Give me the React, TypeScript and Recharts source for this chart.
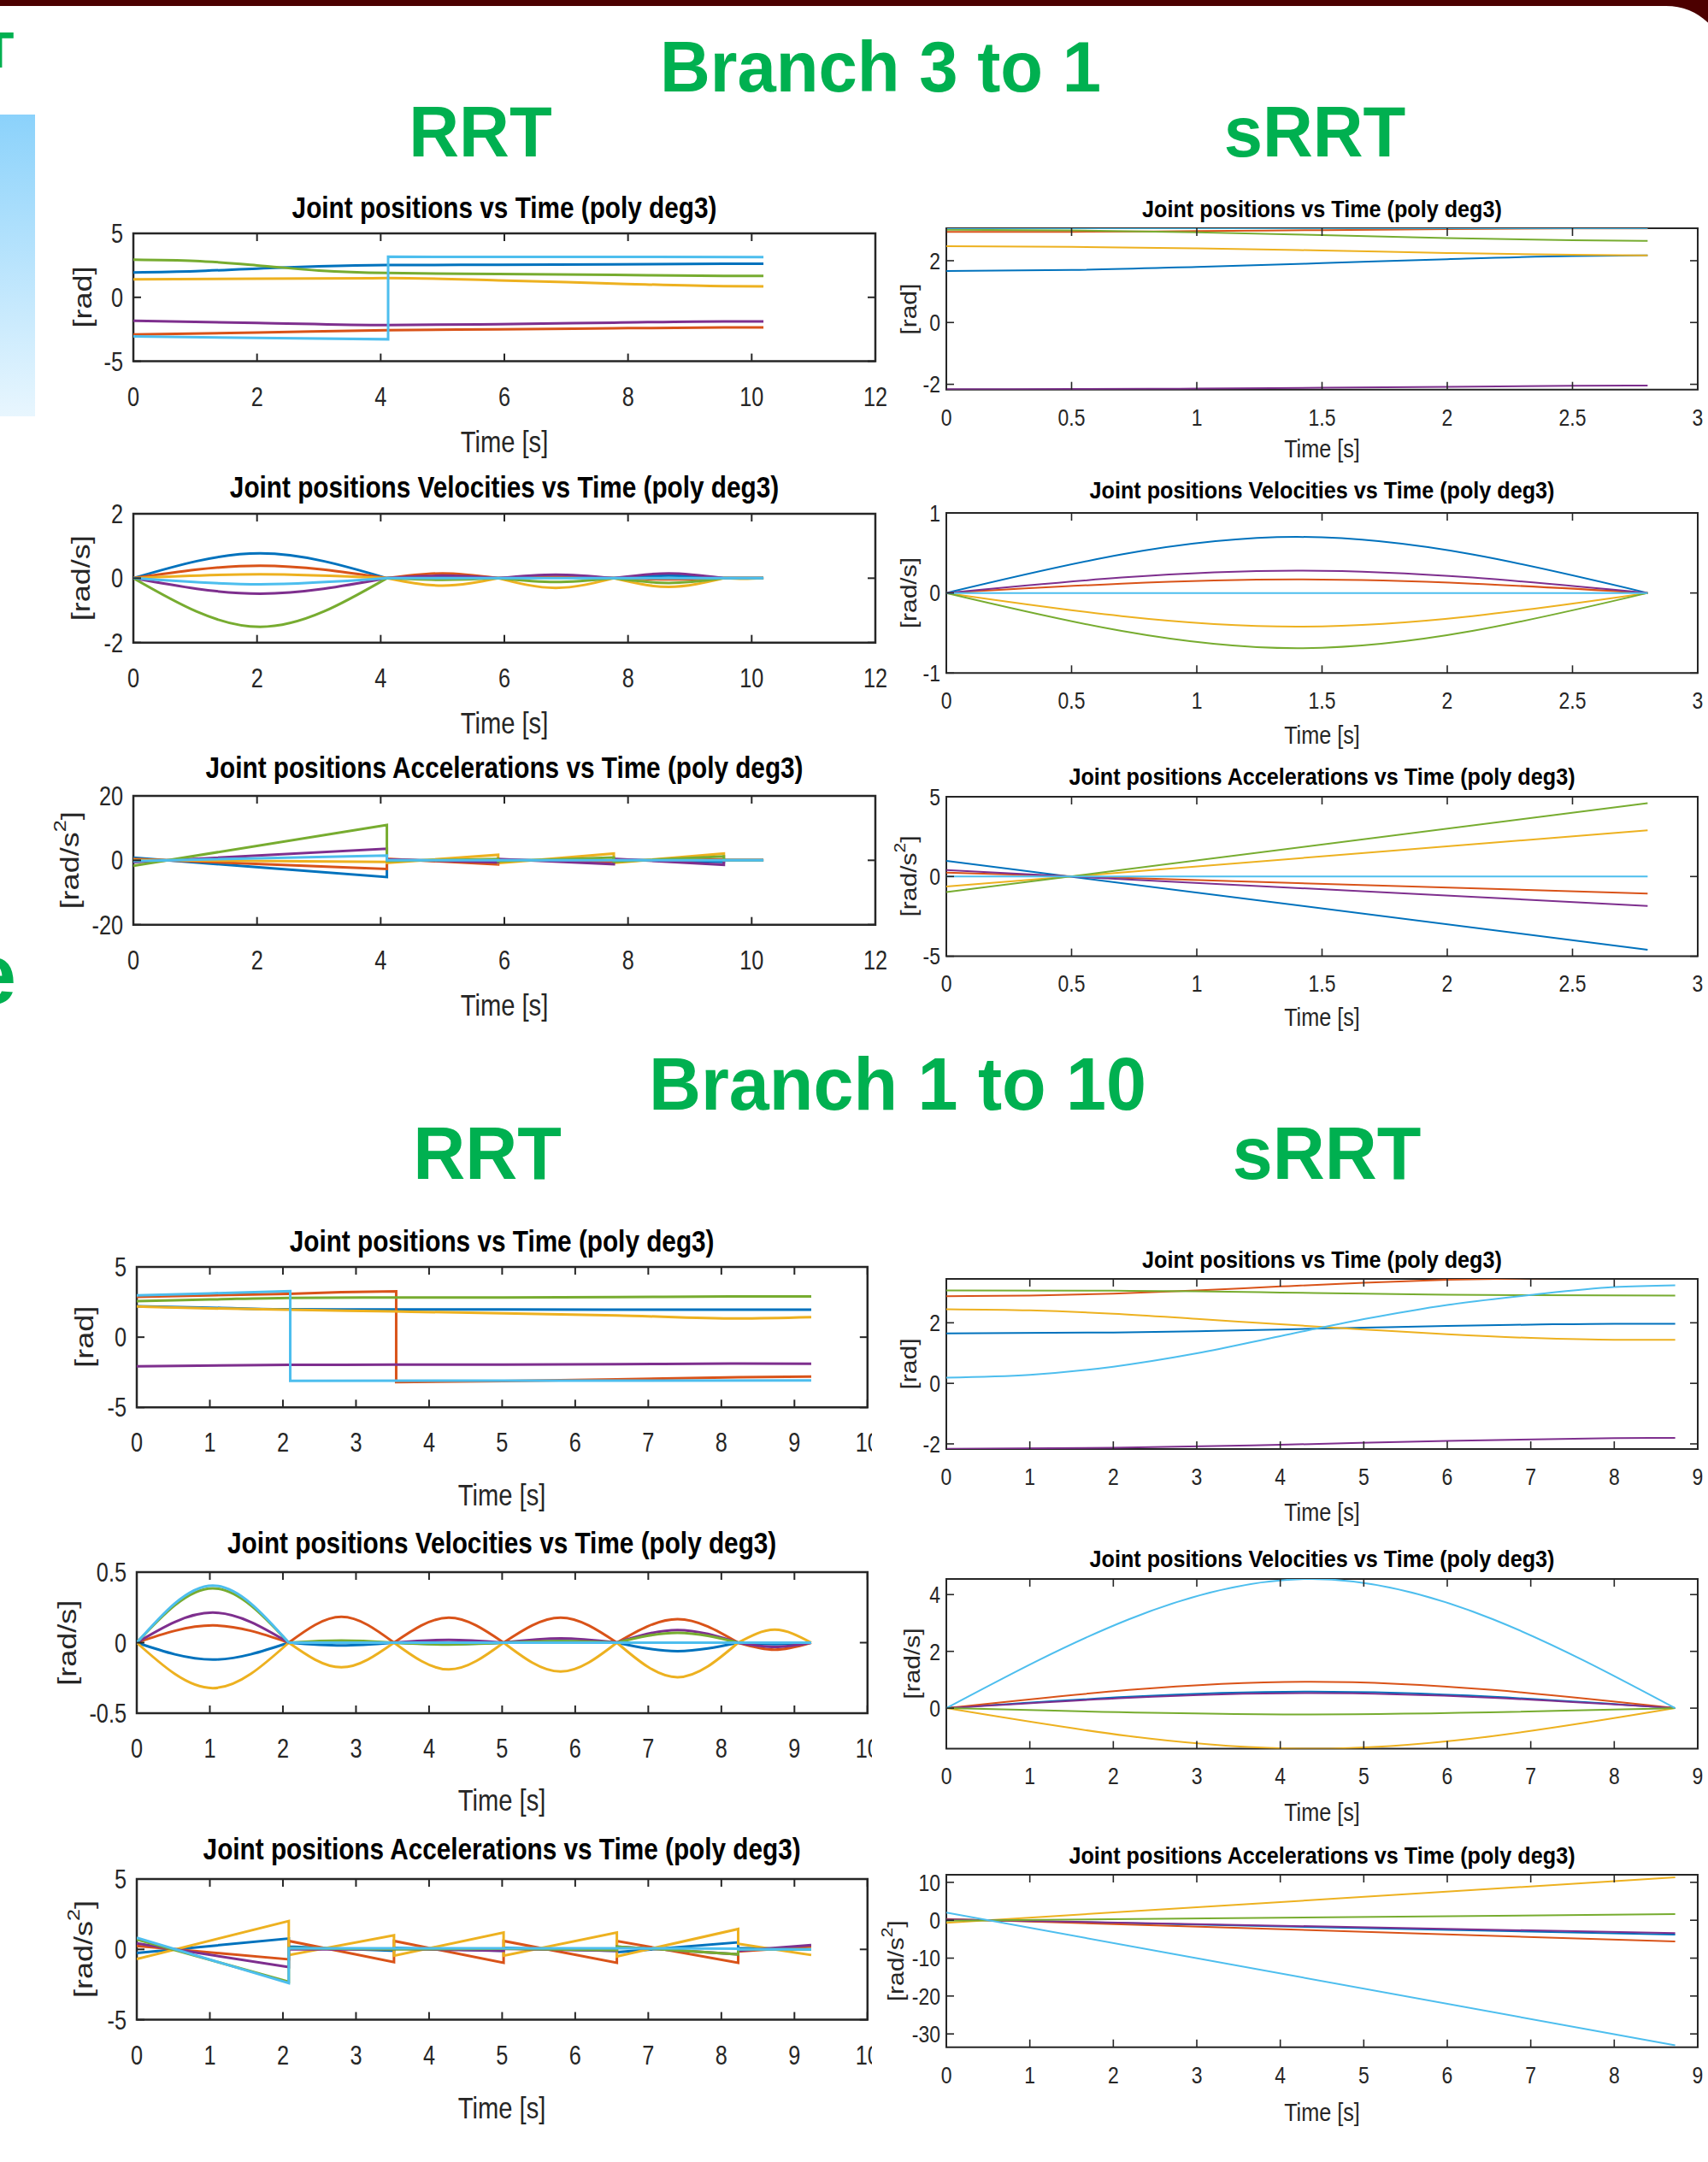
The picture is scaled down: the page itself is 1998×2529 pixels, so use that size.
import React from "react";
import { LineChart, Line, XAxis, YAxis, ReferenceArea } from "recharts";

// MATLAB default line colours, one per joint (j1..j6)
const JOINT_COLORS = ["#0072BD", "#D95319", "#EDB120", "#7E2F8E", "#77AC30", "#4DBEEE"];
const FONT = "'Liberation Sans', Arial, Helvetica, sans-serif";
const AXIS_COLOR = "#262626";
const GREEN = "#00B050";

// ---------- tick labels ----------
const ticks0to12 = [0, 2, 4, 6, 8, 10, 12];
const ticks0to3 = [0, 0.5, 1, 1.5, 2, 2.5, 3];
const ticks0to10 = [0, 1, 2, 3, 4, 5, 6, 7, 8, 9, 10];
const ticks0to9 = [0, 1, 2, 3, 4, 5, 6, 7, 8, 9];

// ---------- Branch 3 to 1, RRT ----------
// positions [t, rad] per joint
const b31RrtPos = [
  [[0, 1.95], [1, 2.05], [2, 2.25], [3, 2.42], [4.1, 2.52], [5.9, 2.55], [7.77, 2.58], [9.55, 2.63], [10.19, 2.63]],
  [[0, -2.9], [2, -2.75], [4.1, -2.57], [5.9, -2.5], [7.77, -2.42], [9.55, -2.36], [10.19, -2.35]],
  [[0, 1.4], [2, 1.45], [4.1, 1.5], [5.9, 1.33], [7.77, 1.08], [9.55, 0.87], [10.19, 0.85]],
  [[0, -1.84], [2, -2.0], [4.1, -2.17], [5.9, -2.1], [7.77, -1.98], [9.55, -1.88], [10.19, -1.88]],
  [[0, 2.95], [1, 2.85], [2, 2.5], [3, 2.1], [4.1, 1.9], [5.9, 1.82], [7.77, 1.75], [9.55, 1.68], [10.19, 1.68]],
  [[0, -3.06], [2, -3.17], [4.12, -3.28], [4.12, 3.17], [10.19, 3.15]],
];
const b31RrtKnots = [0, 4.1, 5.9, 7.77, 9.55, 10.19];
const b31RrtVelPeakT = [2.05, 5.0, 6.83, 8.66, 9.87];
const b31RrtVelPeak = [
  [0.77, 0.04, 0.03, 0.08, 0],
  [0.39, 0.15, 0.04, -0.04, 0],
  [0.12, -0.23, -0.3, -0.27, -0.02],
  [-0.48, 0.08, 0.11, 0.15, 0],
  [-1.51, -0.05, -0.12, -0.15, 0],
  [-0.19, 0, 0, 0, 0],
];
// accelerations: [start, end] of every segment
const b31RrtAcc = [
  [0.8, -5.2, 0.1, -0.3, 0.1, -0.2, 0.2, -0.5, 0, 0],
  [0.4, -2.7, 0.5, -1.3, 0.1, -0.3, -0.1, 0.3, 0, 0],
  [0.1, -0.5, -0.8, 1.7, -0.9, 2.1, -0.8, 2.1, 0, 0],
  [-0.55, 3.6, 0.3, -0.6, 0.4, -1.2, 0.5, -1.4, 0, 0],
  [-1.7, 11, -0.2, 0.4, -0.3, 0.9, -0.4, 1.2, 0, 0],
  [-0.25, 1.5, 0, 0, 0, 0, 0, 0, 0, 0],
];

// ---------- Branch 3 to 1, sRRT ----------
const b31SrrtPos = [
  [[0, 1.67], [0.5, 1.7], [1, 1.8], [1.5, 1.92], [2, 2.05], [2.5, 2.15], [2.8, 2.17]],
  [[0, 2.93], [0.5, 2.935], [1, 2.96], [1.5, 2.99], [2, 3.02], [2.5, 3.04], [2.8, 3.04]],
  [[0, 2.47], [0.5, 2.45], [1, 2.4], [1.5, 2.33], [2, 2.25], [2.5, 2.19], [2.8, 2.17]],
  [[0, -2.16], [0.5, -2.15], [1, -2.14], [1.5, -2.11], [2, -2.08], [2.5, -2.05], [2.8, -2.04]],
  [[0, 3.0], [0.5, 2.98], [1, 2.92], [1.5, 2.83], [2, 2.73], [2.5, 2.66], [2.8, 2.64]],
  [[0, 3.05], [2.8, 3.05]],
];
const b31SrrtKnots = [0, 2.8];
const b31SrrtVelPeakT = [1.4];
const b31SrrtVelPeak = [[0.7], [0.17], [-0.42], [0.28], [-0.69], [0]];
const b31SrrtAcc = [[0.98, -4.59], [0.25, -1.07], [-0.63, 2.9], [0.4, -1.84], [-0.98, 4.6], [0, 0]];

// ---------- Branch 1 to 10, RRT ----------
const b110RrtPos = [
  [[0, 2.2], [1, 2.1], [2.08, 1.98], [3.52, 1.97], [5.02, 1.97], [6.57, 1.96], [8.23, 1.95], [9.23, 1.95]],
  [[0, 2.87], [1, 2.98], [2.08, 3.08], [2.8, 3.2], [3.55, 3.26], [3.55, -3.2], [5.02, -3.12], [6.57, -3.0], [8.23, -2.85], [9.23, -2.8]],
  [[0, 2.18], [1, 2.05], [2.08, 1.95], [3.52, 1.83], [5.02, 1.7], [6.57, 1.55], [8.23, 1.33], [9.23, 1.42]],
  [[0, -2.07], [2.08, -1.97], [3.52, -1.96], [5.02, -1.95], [6.57, -1.93], [8.23, -1.88], [9.23, -1.9]],
  [[0, 2.57], [1, 2.68], [2.08, 2.8], [3.52, 2.83], [5.02, 2.83], [6.57, 2.85], [8.23, 2.9], [9.23, 2.9]],
  [[0, 2.97], [1, 3.12], [2.1, 3.28], [2.1, -3.11], [9.23, -3.08]],
];
const b110RrtKnots = [0, 2.08, 3.52, 5.02, 6.57, 8.23, 9.23];
const b110RrtVelPeakT = [1.04, 2.8, 4.27, 5.8, 7.4, 8.73];
const b110RrtVelPeak = [
  [-0.12, -0.02, -0.01, 0.01, -0.06, -0.01],
  [0.122, 0.183, 0.177, 0.177, 0.167, -0.05],
  [-0.322, -0.175, -0.19, -0.205, -0.245, 0.092],
  [0.213, 0.005, 0.02, 0.03, 0.09, -0.03],
  [0.385, 0.015, -0.013, 0.01, 0.07, 0],
  [0.405, 0, 0, 0, 0, 0],
];
const b110RrtAcc = [
  [-0.26, 0.77, 0.2, -0.1, 0.1, -0.1, 0.1, -0.1, -0.2, 0.5, 0.1, 0],
  [0.24, -0.71, 0.6, -0.9, 0.6, -0.95, 0.6, -0.95, 0.6, -0.95, -0.15, 0.2],
  [-0.69, 2.02, -0.4, 1.0, -0.45, 1.2, -0.45, 1.2, -0.5, 1.45, 0.4, -0.4],
  [0.43, -1.26, 0, 0, 0.05, -0.1, 0.05, -0.1, 0.2, -0.35, -0.1, 0.3],
  [0.7, -2.3, 0.1, 0, 0, 0.05, 0.05, -0.05, 0.2, -0.35, 0, 0],
  [0.82, -2.39, 0.08, 0.08, 0.08, 0.08, 0.08, 0.08, 0.08, 0.05, 0, 0],
];

// ---------- Branch 1 to 10, sRRT ----------
const b110SrrtPos = [
  [[0, 1.65], [2, 1.68], [3, 1.72], [4, 1.78], [5, 1.84], [6, 1.9], [7, 1.94], [8, 1.97], [8.73, 1.97]],
  [[0, 2.88], [1, 2.9], [2, 2.96], [3, 3.07], [4, 3.2], [5, 3.32], [6, 3.42], [7, 3.47], [8, 3.49], [8.73, 3.49]],
  [[0, 2.45], [1, 2.41], [2, 2.3], [3, 2.13], [4, 1.95], [5, 1.78], [6, 1.62], [7, 1.5], [8, 1.44], [8.73, 1.44]],
  [[0, -2.16], [2, -2.13], [4, -2.03], [6, -1.9], [8, -1.81], [8.73, -1.8]],
  [[0, 3.07], [2, 3.06], [3, 3.04], [4, 3.0], [5, 2.96], [6, 2.93], [7, 2.91], [8.73, 2.9]],
  [[0, 0.19], [1, 0.28], [2, 0.55], [3, 0.99], [4, 1.56], [5, 2.12], [6, 2.59], [7, 2.92], [8, 3.18], [8.73, 3.24]],
];
const b110SrrtKnots = [0, 8.73];
const b110SrrtVelPeakT = [4.37];
const b110SrrtVelPeak = [[0.58], [0.93], [-1.43], [0.53], [-0.22], [4.55]];
const b110SrrtAcc = [[0.23, -3.8], [0.34, -5.6], [-0.69, 11.3], [0.21, -3.4], [-0.1, 1.6], [2.0, -33]];

// ---------- helpers ----------
type Pt = { t: number; v: number | null };

const toPoints = (pts: number[][]): Pt[] => pts.map(([t, v]) => ({ t, v }));

// one hump per segment, broken with a null so each hump keeps its own ends
const humpPoints = (knots: number[], peakT: number[], peaks: number[]): Pt[] =>
  peakT.flatMap((pt, s) => [
    { t: knots[s], v: 0 },
    { t: pt, v: peaks[s] },
    { t: knots[s + 1], v: 0 },
    { t: knots[s + 1], v: null },
  ]);

const rampPoints = (knots: number[], ends: number[]): Pt[] =>
  knots.slice(0, -1).flatMap((k, s) => [
    { t: k, v: ends[2 * s] },
    { t: knots[s + 1], v: ends[2 * s + 1] },
  ]);

type Style = {
  title: number;
  titleSx: number;
  tick: number;
  tickSx: number;
  label: number;
  yLabel: number;
  labelSx: number;
  xTickOff: number;
  yGap: number;
  line: number;
  axis: number;
  tickLen: number;
};

const RRT_STYLE: Style = { title: 35, titleSx: 0.85, tick: 32, tickSx: 0.79, label: 36, yLabel: 36, labelSx: 0.81, xTickOff: 41, yGap: 12, line: 3, axis: 2.5, tickLen: 9 };
const SRRT_STYLE: Style = { title: 28, titleSx: 0.9, tick: 28, tickSx: 0.82, label: 29, yLabel: 30, labelSx: 0.87, xTickOff: 32, yGap: 7, line: 2, axis: 2, tickLen: 9 };

type PanelDef = {
  st: Style;
  box: [number, number, number, number];
  title: string;
  unit: "rad" | "rad/s" | "rad/s2";
  xDomain: [number, number];
  xTicks: number[];
  yDomain: [number, number];
  yTicks: number[];
  series: Pt[][];
  curve: "monotone" | "linear";
  linearJoints?: number[];
  titleY: number;
  xLabelY: number;
  yLabelX: number;
};

const T_POS = "Joint positions vs Time (poly deg3)";
const T_VEL = "Joint positions Velocities vs Time (poly deg3)";
const T_ACC = "Joint positions Accelerations vs Time (poly deg3)";

const PANELS: PanelDef[] = [
  {
    st: RRT_STYLE, box: [156, 272.7, 868, 149.6], title: T_POS, unit: "rad",
    xDomain: [0, 12], xTicks: ticks0to12, yDomain: [-5, 5], yTicks: [-5, 0, 5],
    series: b31RrtPos.map(toPoints), curve: "monotone", linearJoints: [5],
    titleY: 243, xLabelY: 516.7, yLabelX: 96.6,
  },
  {
    st: RRT_STYLE, box: [156, 601, 868, 150.7], title: T_VEL, unit: "rad/s",
    xDomain: [0, 12], xTicks: ticks0to12, yDomain: [-2, 2], yTicks: [-2, 0, 2],
    series: b31RrtVelPeak.map((pk) => humpPoints(b31RrtKnots, b31RrtVelPeakT, pk)), curve: "monotone",
    titleY: 570, xLabelY: 845, yLabelX: 95,
  },
  {
    st: RRT_STYLE, box: [156, 931, 868, 150.7], title: T_ACC, unit: "rad/s2",
    xDomain: [0, 12], xTicks: ticks0to12, yDomain: [-20, 20], yTicks: [-20, 0, 20],
    series: b31RrtAcc.map((e) => rampPoints(b31RrtKnots, e)), curve: "linear",
    titleY: 898, xLabelY: 1175, yLabelX: 82,
  },
  {
    st: SRRT_STYLE, box: [1107, 267.3, 879, 188.7], title: T_POS, unit: "rad",
    xDomain: [0, 3], xTicks: ticks0to3, yDomain: [-2.17, 3.05], yTicks: [-2, 0, 2],
    series: b31SrrtPos.map(toPoints), curve: "monotone",
    titleY: 245, xLabelY: 525, yLabelX: 1063,
  },
  {
    st: SRRT_STYLE, box: [1107, 600, 879, 187.3], title: T_VEL, unit: "rad/s",
    xDomain: [0, 3], xTicks: ticks0to3, yDomain: [-1, 1], yTicks: [-1, 0, 1],
    series: b31SrrtVelPeak.map((pk) => humpPoints(b31SrrtKnots, b31SrrtVelPeakT, pk)), curve: "monotone",
    titleY: 573.3, xLabelY: 860, yLabelX: 1063,
  },
  {
    st: SRRT_STYLE, box: [1107, 931.7, 879, 186.6], title: T_ACC, unit: "rad/s2",
    xDomain: [0, 3], xTicks: ticks0to3, yDomain: [-5, 5], yTicks: [-5, 0, 5],
    series: b31SrrtAcc.map((e) => rampPoints(b31SrrtKnots, e)), curve: "linear",
    titleY: 908.3, xLabelY: 1190, yLabelX: 1063,
  },
  {
    st: RRT_STYLE, box: [159.7, 1481.7, 854.8, 164.3], title: T_POS, unit: "rad",
    xDomain: [0, 10], xTicks: ticks0to10, yDomain: [-5, 5], yTicks: [-5, 0, 5],
    series: b110RrtPos.map(toPoints), curve: "monotone", linearJoints: [1, 5],
    titleY: 1451.7, xLabelY: 1748.3, yLabelX: 99,
  },
  {
    st: RRT_STYLE, box: [159.7, 1839.3, 854.8, 165], title: T_VEL, unit: "rad/s",
    xDomain: [0, 10], xTicks: ticks0to10, yDomain: [-0.5, 0.5], yTicks: [-0.5, 0, 0.5],
    series: b110RrtVelPeak.map((pk) => humpPoints(b110RrtKnots, b110RrtVelPeakT, pk)), curve: "monotone",
    titleY: 1805, xLabelY: 2105, yLabelX: 79,
  },
  {
    st: RRT_STYLE, box: [159.7, 2197.7, 854.8, 164.6], title: T_ACC, unit: "rad/s2",
    xDomain: [0, 10], xTicks: ticks0to10, yDomain: [-5, 5], yTicks: [-5, 0, 5],
    series: b110RrtAcc.map((e) => rampPoints(b110RrtKnots, e)), curve: "linear",
    titleY: 2163.3, xLabelY: 2465, yLabelX: 98,
  },
  {
    st: SRRT_STYLE, box: [1107, 1496, 879, 199], title: T_POS, unit: "rad",
    xDomain: [0, 9], xTicks: ticks0to9, yDomain: [-2.17, 3.45], yTicks: [-2, 0, 2],
    series: b110SrrtPos.map(toPoints), curve: "monotone",
    titleY: 1473.3, xLabelY: 1769, yLabelX: 1063,
  },
  {
    st: SRRT_STYLE, box: [1107, 1846.7, 879, 198.6], title: T_VEL, unit: "rad/s",
    xDomain: [0, 9], xTicks: ticks0to9, yDomain: [-1.43, 4.55], yTicks: [0, 2, 4],
    series: b110SrrtVelPeak.map((pk) => humpPoints(b110SrrtKnots, b110SrrtVelPeakT, pk)), curve: "monotone",
    titleY: 1823.3, xLabelY: 2120, yLabelX: 1067,
  },
  {
    st: SRRT_STYLE, box: [1107, 2193, 879, 201.7], title: T_ACC, unit: "rad/s2",
    xDomain: [0, 9], xTicks: ticks0to9, yDomain: [-33.5, 12], yTicks: [-30, -20, -10, 0, 10],
    series: b110SrrtAcc.map((e) => rampPoints(b110SrrtKnots, e)), curve: "linear",
    titleY: 2170.6, xLabelY: 2470.5, yLabelX: 1048,
  },
];

// outer space around each plot box; the axes themselves take 1px
const ML = 90;
const MT = 20;
const MR = 40;
const MB = 66;
const AXIS_PX = 1;

function JointChart({ p }: { p: PanelDef }) {
  const { st } = p;
  const [bx, by, bw, bh] = p.box;
  const tickW = st.axis * 0.8;

  const renderXTick = (props: any) => {
    const { x, y, payload } = props;
    return (
      <g>
        <line x1={x} x2={x} y1={y} y2={y - st.tickLen} stroke={AXIS_COLOR} strokeWidth={tickW} />
        <line x1={x} x2={x} y1={y - bh} y2={y - bh + st.tickLen} stroke={AXIS_COLOR} strokeWidth={tickW} />
        <text
          transform={`translate(${x},${y + st.xTickOff}) scale(${st.tickSx},1)`}
          textAnchor="middle"
          dominantBaseline="central"
          fontFamily={FONT}
          fontSize={st.tick}
          fill={AXIS_COLOR}
        >
          {String(payload.value)}
        </text>
      </g>
    );
  };

  const renderYTick = (props: any) => {
    const { x, y, payload } = props;
    return (
      <g>
        <line x1={x} x2={x + st.tickLen} y1={y} y2={y} stroke={AXIS_COLOR} strokeWidth={tickW} />
        <line x1={x + bw} x2={x + bw - st.tickLen} y1={y} y2={y} stroke={AXIS_COLOR} strokeWidth={tickW} />
        <text
          transform={`translate(${x - st.yGap},${y}) scale(${st.tickSx},1)`}
          textAnchor="end"
          dominantBaseline="central"
          fontFamily={FONT}
          fontSize={st.tick}
          fill={AXIS_COLOR}
        >
          {String(payload.value)}
        </text>
      </g>
    );
  };

  return (
    <div style={{ position: "absolute", left: bx - ML, top: by - MT }}>
      <LineChart
        width={bw + ML + MR}
        height={bh + MT + MB}
        margin={{ top: MT, right: MR, bottom: MB - AXIS_PX, left: ML - AXIS_PX }}
      >
        <XAxis
          type="number"
          dataKey="t"
          domain={p.xDomain}
          ticks={p.xTicks}
          interval={0}
          height={AXIS_PX}
          tickSize={0}
          tickMargin={0}
          tickLine={false}
          axisLine={false}
          tick={renderXTick}
          allowDataOverflow
        />
        <YAxis
          type="number"
          domain={p.yDomain}
          ticks={p.yTicks}
          interval={0}
          width={AXIS_PX}
          tickSize={0}
          tickMargin={0}
          tickLine={false}
          axisLine={false}
          tick={renderYTick}
          allowDataOverflow
        />
        <ReferenceArea
          x1={p.xDomain[0]}
          x2={p.xDomain[1]}
          y1={p.yDomain[0]}
          y2={p.yDomain[1]}
          fill="none"
          fillOpacity={0}
          stroke={AXIS_COLOR}
          strokeWidth={st.axis}
        />
        {p.series.map((data, j) => (
          <Line
            key={j}
            data={data}
            dataKey="v"
            type={p.linearJoints && p.linearJoints.includes(j) ? "linear" : p.curve}
            stroke={JOINT_COLORS[j]}
            strokeWidth={st.line}
            dot={false}
            activeDot={false}
            connectNulls={false}
            isAnimationActive={false}
          />
        ))}
      </LineChart>
    </div>
  );
}

function yLabelContent(unit: PanelDef["unit"], size: number) {
  if (unit === "rad/s2") {
    return (
      <>
        [rad/s
        <tspan dy={-size * 0.4} fontSize={size * 0.7}>2</tspan>
        <tspan dy={size * 0.4}>]</tspan>
      </>
    );
  }
  return `[${unit}]`;
}

function PanelTexts({ p }: { p: PanelDef }) {
  const { st } = p;
  const [bx, by, bw, bh] = p.box;
  const cx = bx + bw / 2;
  return (
    <g fontFamily={FONT}>
      <text
        transform={`translate(${cx},${p.titleY}) scale(${st.titleSx},1)`}
        textAnchor="middle"
        dominantBaseline="central"
        fontSize={st.title}
        fontWeight="bold"
        fill="#000"
      >
        {p.title}
      </text>
      <text
        transform={`translate(${cx},${p.xLabelY}) scale(${st.labelSx},1)`}
        textAnchor="middle"
        dominantBaseline="central"
        fontSize={st.label}
        fill={AXIS_COLOR}
      >
        Time [s]
      </text>
      <text
        transform={`translate(${p.yLabelX},${by + bh / 2}) scale(${st.labelSx},1) rotate(-90)`}
        textAnchor="middle"
        dominantBaseline="central"
        fontSize={st.yLabel}
        fill={AXIS_COLOR}
      >
        {yLabelContent(p.unit, st.yLabel)}
      </text>
    </g>
  );
}

function Heading({ text, x, y, size, sx }: { text: string; x: number; y: number; size: number; sx: number }) {
  return (
    <text
      transform={`translate(${x},${y}) scale(${sx},1)`}
      textAnchor="middle"
      fontFamily={FONT}
      fontWeight="bold"
      fontSize={size}
      fill={GREEN}
    >
      {text}
    </text>
  );
}

export default function App() {
  const rrtPanels = PANELS.filter((p, i) => i < 9 && p.st === RRT_STYLE);
  const topSrrt = PANELS.slice(3, 6);
  const bottomSrrt = PANELS.slice(9, 12);
  return (
    <div
      style={{
        position: "absolute",
        left: 0,
        top: 0,
        width: 1998,
        height: 2529,
        background: "#fff",
        overflow: "hidden",
      }}
    >
      <svg width={1998} height={2529} style={{ position: "absolute", left: 0, top: 0 }}>
        <defs>
          <linearGradient id="sideBlue" x1="0" y1="0" x2="0" y2="1">
            <stop offset="0" stopColor="#8BD2FB" />
            <stop offset="1" stopColor="#E8F6FE" />
          </linearGradient>
        </defs>
        <rect x={-100} y={-8} width={2135} height={3000} rx={86} fill="none" stroke="#4C0000" strokeWidth={30} />
        <rect x={0} y={134} width={41} height={353} fill="url(#sideBlue)" />
        <text x={-2} y={79} textAnchor="middle" fontFamily={FONT} fontWeight="bold" fontSize={60} fill={GREEN}>
          T
        </text>
        <text x={19} y={1174} textAnchor="end" fontFamily={FONT} fontWeight="bold" fontSize={100} fill={GREEN}>
          e
        </text>
      </svg>

      {rrtPanels.map((p, i) => (
        <JointChart key={`rrt${i}`} p={p} />
      ))}
      {topSrrt.map((p, i) => (
        <JointChart key={`stop${i}`} p={p} />
      ))}

      {/* the sRRT screenshot sits over the right end of the RRT x labels */}
      <div style={{ position: "absolute", left: 1020, top: 1400, width: 978, height: 1129, background: "#fff" }} />

      {bottomSrrt.map((p, i) => (
        <JointChart key={`sbot${i}`} p={p} />
      ))}

      <svg width={1998} height={2529} style={{ position: "absolute", left: 0, top: 0, pointerEvents: "none" }}>
        <Heading text="Branch 3 to 1" x={1030} y={107} size={84} sx={0.97} />
        <Heading text="RRT" x={562} y={183} size={84} sx={0.97} />
        <Heading text="sRRT" x={1538} y={183} size={84} sx={0.97} />
        <Heading text="Branch 1 to 10" x={1050} y={1298} size={88} sx={0.96} />
        <Heading text="RRT" x={570} y={1379} size={88} sx={0.96} />
        <Heading text="sRRT" x={1552} y={1379} size={88} sx={0.96} />
        {PANELS.map((p, i) => (
          <PanelTexts key={i} p={p} />
        ))}
      </svg>
    </div>
  );
}
